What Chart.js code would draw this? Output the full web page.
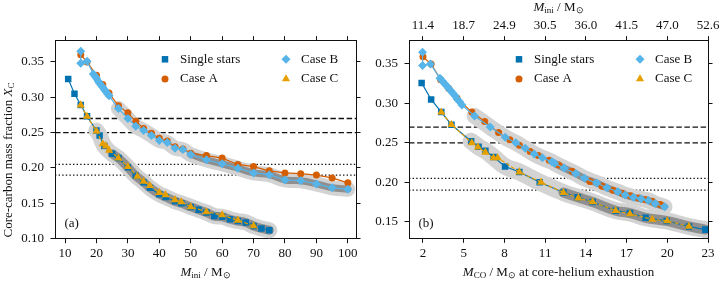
<!DOCTYPE html>
<html>
<head>
<meta charset="utf-8">
<script src="https://cdn.jsdelivr.net/npm/chart.js@4.4.1/dist/chart.umd.min.js"></script>
<style>
  html, body { margin: 0; padding: 0; background: #fff; }
  #wrap { position: relative; width: 725px; height: 283px; }
  canvas { position: absolute; top: 0; }
  #chartA { left: 0; }
  #chartB { left: 362px; }
</style>
</head>
<body>
<div id="wrap">
  <canvas id="chartA" width="362" height="283"></canvas>
  <canvas id="chartB" width="363" height="283"></canvas>
</div>
<script>
// ---- data ----
const seriesNames = ['Single stars', 'Case A', 'Case B', 'Case C'];

// panel (a): x = initial mass
const miniSingle = [11, 13, 15, 17, 20, 21, 22.5, 25, 27, 30, 32.5, 35, 37, 40, 42, 45, 47, 50, 52.5, 55, 57.5, 60, 62.5, 65, 67.5, 70, 72.5, 75];
const xcSingleA  = [0.326, 0.305, 0.289, 0.273, 0.253, 0.246, 0.231, 0.220, 0.214, 0.201, 0.189, 0.180, 0.172, 0.163, 0.159, 0.153, 0.150, 0.145, 0.141, 0.137, 0.132, 0.131, 0.1275, 0.125, 0.123, 0.118, 0.1145, 0.112];
const miniCaseA  = [15, 17, 20, 22, 24, 27, 30, 32.5, 35, 37.5, 40, 42.5, 45, 47.5, 50, 55, 60, 65, 70, 75, 80, 85, 90, 95, 100];
const xcCaseA_a  = [0.360, 0.350, 0.331, 0.318, 0.306, 0.288, 0.278, 0.266, 0.256, 0.249, 0.242, 0.238, 0.230, 0.227, 0.221, 0.2175, 0.214, 0.205, 0.202, 0.196, 0.193, 0.192, 0.190, 0.186, 0.179];
const miniCaseB  = [15, 15, 17, 19, 19.5, 20, 20.5, 21, 21.5, 22, 22.5, 23, 23.5, 24, 27, 30, 32.5, 35, 37.5, 40, 42.5, 45, 47.5, 50, 55, 60, 65, 70, 75, 80, 85, 90, 95, 100];
const xcCaseB_a  = [0.365, 0.348, 0.351, 0.333, 0.330, 0.327, 0.323, 0.320, 0.317, 0.314, 0.311, 0.308, 0.305, 0.302, 0.284, 0.270, 0.259, 0.253, 0.246, 0.239, 0.236, 0.228, 0.226, 0.219, 0.2115, 0.206, 0.1997, 0.193, 0.1905, 0.183, 0.182, 0.1775, 0.172, 0.170];
const miniCaseC  = [15, 17, 20, 22, 23, 24, 27, 30, 33, 35, 37, 40, 42, 45, 47, 50, 55, 60, 65, 70];
const xcCaseC_a  = [0.289, 0.273, 0.252, 0.234, 0.231, 0.225, 0.214, 0.202, 0.188, 0.181, 0.175, 0.165, 0.162, 0.155, 0.152, 0.145, 0.138, 0.1335, 0.126, 0.118];

// panel (b): x = CO core mass
const mcoSingle = [1.9, 2.6, 3.35, 4.1, 5.55, 6.1, 6.6, 7.2, 8.05, 9.1, 10.6, 12.35, 13.4, 14.5, 16.2, 17.25, 18.4, 19.95, 21.6, 22.8];
const xcSingleB = [0.326, 0.305, 0.289, 0.273, 0.252, 0.245, 0.240, 0.232, 0.220, 0.213, 0.200, 0.187, 0.181, 0.175, 0.164, 0.161, 0.155, 0.151, 0.144, 0.140];
const mcoCaseA  = [2.0, 2.6, 3.3, 3.9, 4.5, 5.6, 6.55, 7.57, 8.4, 9.1, 9.9, 10.5, 11.3, 12.0, 13.0, 14.3, 15.2, 16.0, 16.7, 17.3, 17.9, 18.4, 18.9, 19.5];
const xcCaseA_b = [0.359, 0.350, 0.330, 0.319, 0.307, 0.289, 0.277, 0.263, 0.254, 0.247, 0.239, 0.234, 0.228, 0.222, 0.214, 0.201, 0.195, 0.190, 0.186, 0.183, 0.180, 0.178, 0.176, 0.172];
const mcoCaseB  = [1.97, 1.97, 2.55, 3.25, 3.45, 3.6, 3.75, 3.9, 4.05, 4.2, 4.35, 4.5, 4.7, 4.87, 5.8, 6.95, 8.06, 8.84, 9.53, 10.2, 10.8, 11.5, 11.7, 12.4, 13.25, 13.9, 14.8, 15.55, 16.35, 16.9, 17.5, 18.06, 18.6, 19.1, 19.8];
const xcCaseB_b = [0.365, 0.348, 0.350, 0.332, 0.328, 0.325, 0.322, 0.319, 0.316, 0.313, 0.310, 0.306, 0.302, 0.298, 0.284, 0.270, 0.257, 0.250, 0.243, 0.236, 0.231, 0.226, 0.224, 0.218, 0.211, 0.205, 0.199, 0.193, 0.188, 0.184, 0.181, 0.179, 0.177, 0.173, 0.169];
const mcoCaseC  = [3.35, 4.1, 5.6, 6.05, 6.6, 7.2, 7.5, 9.1, 10.7, 12.35, 13.45, 14.5, 16.2, 17.25, 18.9, 20.0, 21.6];
const xcCaseC_b = [0.289, 0.273, 0.250, 0.2445, 0.238, 0.231, 0.231, 0.213, 0.200, 0.187, 0.180, 0.175, 0.164, 0.160, 0.153, 0.151, 0.144];

// ticks and reference levels
const xcTicks = [0.10, 0.15, 0.20, 0.25, 0.30, 0.35];
const miniTicks = [10, 20, 30, 40, 50, 60, 70, 80, 90, 100];
const mcoTicks = [2, 5, 8, 11, 14, 17, 20, 23];
const miniTopLabels = ['11.4', '18.7', '24.9', '30.5', '36.0', '41.5', '47.0', '52.6'];
const dashedLevels = [0.27, 0.25];
const dottedLevels = [0.205, 0.19];

// ---- styling ----
const FONT = '"Liberation Serif", "Times New Roman", serif';
const INK = '#111';
const COL = { single: '#0072B2', a: '#D55E00', b: '#56B4E9', c: '#E69F00' };
const BAND_LIGHT = '#d3d3d3';
const BAND_DARK = '#8f8f8f';
const markers = [
  { style: 'rect', r: 4.6, color: COL.single },
  { style: 'circle', r: 3.5, color: COL.a },
  { style: 'rectRot', r: 4.5, color: COL.b },
  { style: 'triangle', r: 4.7, color: COL.c }
];

function pts(xs, ys) { return xs.map((x, i) => ({ x: x, y: ys[i] })); }

function series(xs, ys, k, order, dash) {
  const m = markers[k];
  return {
    data: pts(xs, ys), showLine: true, borderColor: m.color, borderWidth: 1.2, borderDash: dash || [],
    pointStyle: m.style, pointRadius: m.r, pointBackgroundColor: m.color, pointBorderColor: m.color,
    pointBorderWidth: 0, order: order
  };
}

function band(xs, ys, from, to, color, width, order) {
  return {
    data: pts(xs, ys).filter(p => p.x >= from && p.x <= to), showLine: true,
    borderColor: color, borderWidth: width, borderCapStyle: 'round', borderJoinStyle: 'round',
    tension: 0.4, pointRadius: 0, order: order
  };
}

function fontFor(p) { return (p.it ? 'italic ' : '') + (p.sub ? 9 : 13) + 'px ' + FONT; }

function drawRich(ctx, parts, x, y, align) {
  let w = 0;
  parts.forEach(p => { ctx.font = fontFor(p); w += ctx.measureText(p.t).width; });
  let cx = align === 'center' ? x - w / 2 : x;
  ctx.textAlign = 'left';
  ctx.textBaseline = 'middle';
  parts.forEach(p => {
    ctx.font = fontFor(p);
    ctx.fillText(p.t, cx, y + (p.sub ? 3 : 0));
    cx += ctx.measureText(p.t).width;
  });
}

function drawMarker(ctx, m, x, y) {
  ctx.fillStyle = m.color;
  ctx.beginPath();
  if (m.style === 'rect') {
    const s = m.r * Math.SQRT1_2;
    ctx.rect(x - s, y - s, 2 * s, 2 * s);
  } else if (m.style === 'circle') {
    ctx.arc(x, y, m.r, 0, Math.PI * 2);
  } else if (m.style === 'rectRot') {
    ctx.moveTo(x, y - m.r); ctx.lineTo(x + m.r, y); ctx.lineTo(x, y + m.r); ctx.lineTo(x - m.r, y);
  } else {
    for (let i = 0; i < 3; i++) {
      const a = i * 2 * Math.PI / 3;
      const px = x + Math.sin(a) * m.r, py = y - Math.cos(a) * m.r;
      if (i === 0) ctx.moveTo(px, py); else ctx.lineTo(px, py);
    }
  }
  ctx.closePath();
  ctx.fill();
}

const miniTitle = [{ t: 'M', it: 1 }, { t: 'ini', sub: 1 }, { t: ' / M' }, { t: '\u2299', sub: 1 }];
const mcoTitle = [{ t: 'M', it: 1 }, { t: 'CO', sub: 1 }, { t: ' / M' }, { t: '\u2299', sub: 1 }, { t: ' at core-helium exhaustion' }];
const yTitle = [{ t: 'Core-carbon mass fraction ' }, { t: 'X', it: 1 }, { t: 'C', sub: 1 }];

// reference lines, legend, titles, panel label
function decorations(o) {
  return {
    id: 'decor',
    beforeDatasetsDraw(chart) {
      const ctx = chart.ctx, a = chart.chartArea, y = chart.scales.y;
      ctx.save();
      ctx.strokeStyle = INK;
      ctx.lineWidth = 1.3;
      const lines = (levels, dash) => levels.forEach(v => {
        const py = y.getPixelForValue(v);
        ctx.setLineDash(dash);
        ctx.beginPath(); ctx.moveTo(a.left, py); ctx.lineTo(a.right, py); ctx.stroke();
      });
      lines(dashedLevels, [5.5, 2.6]);
      lines(dottedLevels, [1.4, 2.2]);
      ctx.restore();
    },
    afterDraw(chart) {
      const ctx = chart.ctx, a = chart.chartArea;
      ctx.save();
      ctx.fillStyle = INK;
      // legend
      seriesNames.forEach((name, i) => {
        const col = Math.floor(i / 2), row = i % 2;
        const mx = a.left + 110 + col * 121, my = a.top + 18.6 + row * 19.7;
        drawMarker(ctx, markers[i], mx, my);
        ctx.fillStyle = INK;
        drawRich(ctx, [{ t: name }], mx + 15, my, 'left');
      });
      // panel label
      drawRich(ctx, [{ t: o.panel }], a.left + 9.5, a.bottom - 15, 'left');
      // bottom x title
      const cx = (a.left + a.right) / 2;
      drawRich(ctx, o.xTitle, cx, 273, 'center');
      if (o.topTitle) drawRich(ctx, o.topTitle, cx, 8, 'center');
      if (o.yTitle) {
        ctx.translate(9, 160);
        ctx.rotate(-Math.PI / 2);
        drawRich(ctx, o.yTitle, 0, 0, 'center');
      }
      ctx.restore();
    }
  };
}

function scales(o) {
  const grid = { drawOnChartArea: false, drawTicks: true, tickLength: 4.5, color: INK, lineWidth: 1 };
  const border = { display: true, color: INK, width: 1 };
  const font = { family: FONT, size: 13 };
  const yt = xcTicks.filter(v => v >= o.ymin);
  return {
    x: {
      type: 'linear', position: 'bottom', min: o.xmin, max: o.xmax, grid: grid, border: border,
      ticks: { color: INK, font: font, padding: 3, maxRotation: 0, autoSkip: false, callback: v => String(v) },
      afterBuildTicks: s => { s.ticks = o.xticks.map(v => ({ value: v })); },
      afterFit: s => { s.height = o.bottomH; }
    },
    x2: {
      type: 'linear', position: 'top', min: o.xmin, max: o.xmax, grid: grid, border: border,
      ticks: { display: !!o.topLabels, color: INK, font: font, padding: 3, maxRotation: 0, autoSkip: false,
               callback: (v, i) => o.topLabels ? o.topLabels[i] : '' },
      afterBuildTicks: s => { s.ticks = o.xticks.map(v => ({ value: v })); },
      afterFit: s => { s.height = o.topH; }
    },
    y: {
      type: 'linear', position: 'left', min: o.ymin, max: o.ymax, grid: grid, border: border,
      ticks: { color: INK, font: font, padding: 6.5, callback: v => v.toFixed(2) },
      afterBuildTicks: s => { s.ticks = yt.map(v => ({ value: v })); },
      afterFit: s => { s.width = o.leftW; }
    },
    y2: {
      type: 'linear', position: 'right', min: o.ymin, max: o.ymax, grid: grid, border: border,
      ticks: { display: false },
      afterBuildTicks: s => { s.ticks = yt.map(v => ({ value: v })); },
      afterFit: s => { s.width = o.rightW; }
    }
  };
}

function makeChart(id, datasets, o) {
  return new Chart(document.getElementById(id), {
    type: 'scatter',
    data: { datasets: datasets },
    options: {
      responsive: false, animation: false, devicePixelRatio: 1,
      layout: { padding: 0 },
      plugins: { legend: { display: false }, tooltip: { enabled: false } },
      scales: scales(o)
    },
    plugins: [decorations(o)]
  });
}

makeChart('chartA', [
  band(miniSingle, xcSingleA, 19.5, 80, BAND_LIGHT, 16, 20),
  band(miniCaseB, xcCaseB_a, 27, 101, BAND_LIGHT, 15, 20),
  band(miniSingle, xcSingleA, 24, 80, BAND_DARK, 9, 15),
  band(miniCaseB, xcCaseB_a, 50, 101, BAND_DARK, 7, 15),
  series(miniSingle, xcSingleA, 0, 4),
  series(miniCaseA, xcCaseA_a, 1, 3),
  series(miniCaseB, xcCaseB_a, 2, 2),
  series(miniCaseC, xcCaseC_a, 3, 1, [4, 2])
], {
  xmin: 6.8, xmax: 102.6, ymin: 0.10, ymax: 0.38, xticks: miniTicks,
  leftW: 55, rightW: 6, topH: 40.7, bottomH: 44.3,
  panel: '(a)', xTitle: miniTitle, yTitle: yTitle
});

makeChart('chartB', [
  band(mcoSingle, xcSingleB, 5.5, 24, BAND_LIGHT, 17, 20),
  band(mcoCaseB, xcCaseB_b, 5.8, 21, BAND_LIGHT, 16, 20),
  band(mcoSingle, xcSingleB, 12, 24, BAND_DARK, 10, 15),
  band(mcoCaseB, xcCaseB_b, 11, 21, BAND_DARK, 7, 15),
  series(mcoSingle, xcSingleB, 0, 4),
  series(mcoCaseA, xcCaseA_b, 1, 3),
  series(mcoCaseB, xcCaseB_b, 2, 2),
  series(mcoCaseC, xcCaseC_b, 3, 1, [4, 2])
], {
  xmin: 0.97, xmax: 23.0, ymin: 0.129, ymax: 0.3795, xticks: mcoTicks, topLabels: miniTopLabels,
  leftW: 47, rightW: 17, topH: 40.7, bottomH: 44.7,
  panel: '(b)', xTitle: mcoTitle, topTitle: miniTitle
});
</script>
</body>
</html>
